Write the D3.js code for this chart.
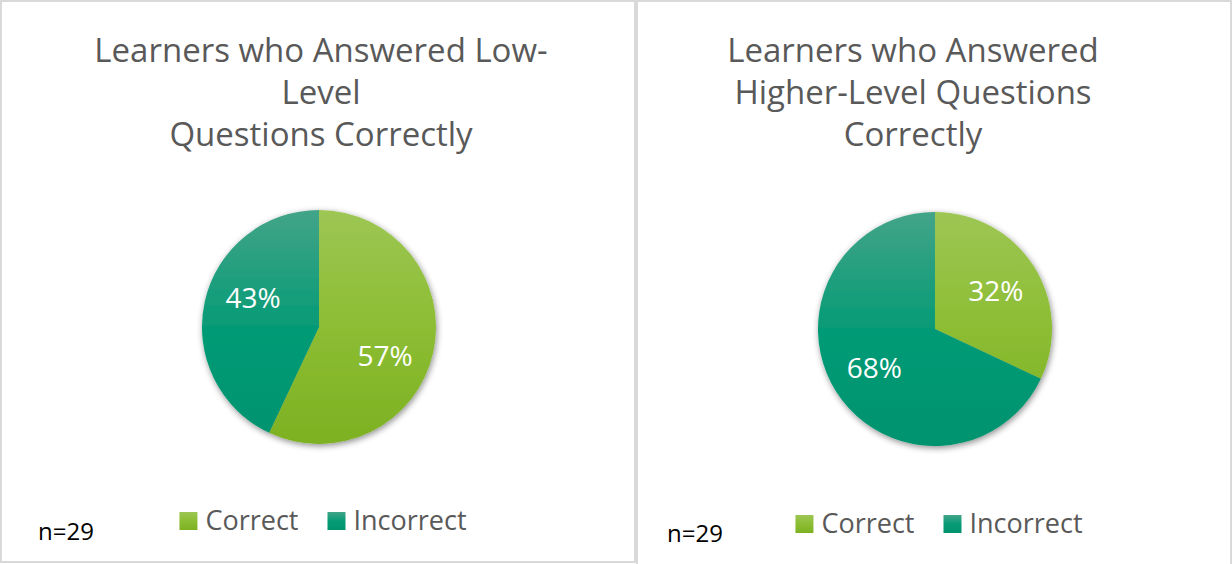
<!DOCTYPE html>
<html>
<head>
<meta charset="utf-8">
<script src="https://cdn.jsdelivr.net/npm/d3@7"></script>
<style>
  html, body { margin: 0; padding: 0; background: #fff; }
  svg { display: block; font-family: 'Open Sans', sans-serif; }
</style>
</head>
<body>
<div id="main"></div>
<script>
// chart data
var categories = ['Correct', 'Incorrect'];
var lowLevelValues = [57, 43];
var higherLevelValues = [32, 68];
var lowLevelTitle = ['Learners who Answered Low-', 'Level', 'Questions Correctly'];
var higherLevelTitle = ['Learners who Answered', 'Higher-Level Questions', 'Correctly'];
var sampleNote = 'n=29';

// gradient stops per category (top, middle, bottom)
var sliceColors = {
  Correct: ['#9dc654', '#8cbd33', '#7db122'],
  Incorrect: ['#43a488', '#069b76', '#00936e']
};

function Sketch() {
  this.width = 1232;
  this.height = 564;
  this.radius = 117;
}

Sketch.prototype.init = function() {
  this.svg = d3.select('#main')
    .append('svg')
    .attr('width', this.width)
    .attr('height', this.height);

  var defs = this.svg.append('defs');

  var shadow = defs.append('filter')
    .attr('id', 'pie-shadow')
    .attr('x', '-20%').attr('y', '-20%')
    .attr('width', '140%').attr('height', '140%');
  shadow.append('feDropShadow')
    .attr('dx', 1)
    .attr('dy', 2)
    .attr('stdDeviation', 3)
    .attr('flood-color', '#000')
    .attr('flood-opacity', 0.45);

  var r = this.radius;
  categories.forEach(function(c) {
    // slice gradient in the pie's own coordinates
    var g = defs.append('linearGradient')
      .attr('id', 'slice-' + c)
      .attr('gradientUnits', 'userSpaceOnUse')
      .attr('x1', 0).attr('y1', -r)
      .attr('x2', 0).attr('y2', r);
    sliceColors[c].forEach(function(col, i) {
      g.append('stop').attr('offset', i / 2).attr('stop-color', col);
    });

    var k = defs.append('linearGradient')
      .attr('id', 'key-' + c)
      .attr('x1', 0).attr('y1', 0)
      .attr('x2', 0).attr('y2', 1);
    sliceColors[c].forEach(function(col, i) {
      k.append('stop').attr('offset', i / 2).attr('stop-color', col);
    });
  });
};

Sketch.prototype.update = function() {
  this.data = [
    {title: lowLevelTitle, values: lowLevelValues,
     x: 0, w: 635, h: 561, cx: 319, cy: 327, titleX: 321, labelTurn: 11,
     noteX: 38, noteY: 540, legendY: 530},
    {title: higherLevelTitle, values: higherLevelValues,
     x: 636, w: 595, h: 580, cx: 935, cy: 329, titleX: 913, labelTurn: 0,
     noteX: 667, noteY: 542, legendY: 533}
  ];
};

Sketch.prototype.render = function() {
  var r = this.radius;

  var pie = d3.pie()
    .sort(null)
    .value(function(d) { return d.value; });

  var arc = d3.arc().innerRadius(0).outerRadius(r);
  var labelArc = d3.arc().innerRadius(72).outerRadius(72);

  var panels = this.svg.selectAll('g.panel')
    .data(this.data)
    .enter()
    .append('g')
    .attr('class', 'panel');

  // panel frame
  panels.append('rect')
    .attr('x', function(d) { return d.x + 1; })
    .attr('y', 1)
    .attr('width', function(d) { return d.w - 1; })
    .attr('height', function(d) { return d.h; })
    .attr('fill', '#fff')
    .attr('stroke', '#d9d9d9')
    .attr('stroke-width', 2);

  // title
  panels.each(function(d) {
    var t = d3.select(this).append('text')
      .attr('class', 'title')
      .attr('text-anchor', 'middle')
      .attr('font-size', 33)
      .attr('fill', '#595959');
    t.selectAll('tspan')
      .data(d.title)
      .enter()
      .append('tspan')
      .attr('x', d.titleX)
      .attr('y', function(line, i) { return 62 + i * 42; })
      .text(function(line) { return line; });
  });

  // pie
  panels.each(function(d) {
    var g = d3.select(this).append('g')
      .attr('transform', 'translate(' + d.cx + ',' + d.cy + ')');

    var slices = pie(categories.map(function(c, i) {
      return {category: c, value: d.values[i]};
    }));

    g.append('g')
      .attr('filter', 'url(#pie-shadow)')
      .selectAll('path')
      .data(slices)
      .enter()
      .append('path')
      .attr('d', arc)
      .attr('fill', function(s) { return 'url(#slice-' + s.data.category + ')'; });

    var turn = d.labelTurn * Math.PI / 180;
    g.selectAll('text.label')
      .data(slices)
      .enter()
      .append('text')
      .attr('class', 'label')
      .attr('transform', function(s) {
        var p = labelArc.centroid({startAngle: s.startAngle + turn, endAngle: s.endAngle + turn});
        return 'translate(' + p + ')';
      })
      .attr('text-anchor', 'middle')
      .attr('dy', '0.36em')
      .attr('font-size', 28)
      .attr('fill', '#fff')
      .text(function(s) { return s.data.value + '%'; });
  });

  // sample size note
  panels.append('text')
    .attr('x', function(d) { return d.noteX; })
    .attr('y', function(d) { return d.noteY; })
    .attr('font-size', 24)
    .attr('fill', '#000')
    .text(sampleNote);

  // legend, centred under the pie
  panels.each(function(d) {
    var lg = d3.select(this).append('g');
    var x = 0;
    categories.forEach(function(c) {
      lg.append('rect')
        .attr('x', x)
        .attr('y', d.legendY - 18)
        .attr('width', 18)
        .attr('height', 18)
        .attr('fill', 'url(#key-' + c + ')');
      var t = lg.append('text')
        .attr('x', x + 26)
        .attr('y', d.legendY)
        .attr('font-size', 27)
        .attr('fill', '#595959')
        .text(c);
      x += 26 + t.node().getComputedTextLength() + 29;
    });
    var total = x - 29;
    lg.attr('transform', 'translate(' + (d.cx + 4 - total / 2) + ',0)');
  });
};

document.addEventListener('DOMContentLoaded', function() {
  var s = new Sketch();
  s.init();
  s.update();
  s.render();
});
</script>
</body>
</html>
